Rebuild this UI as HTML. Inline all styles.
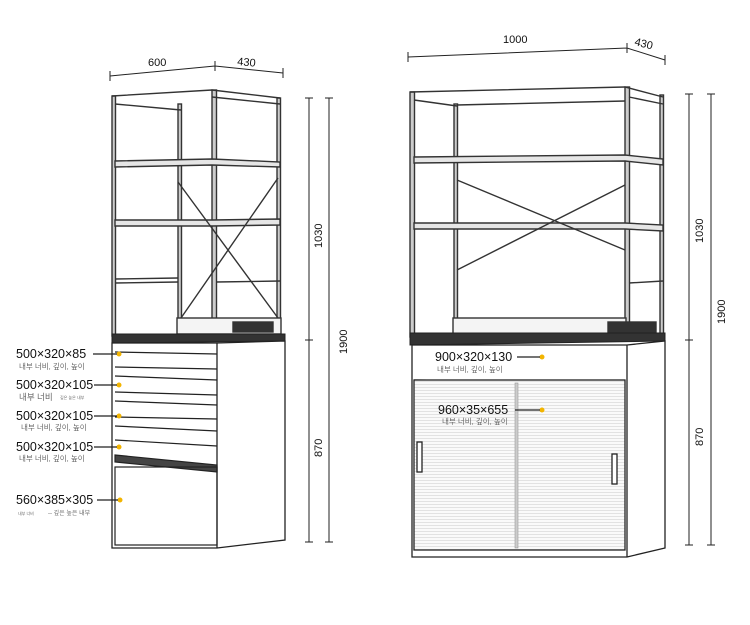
<!DOCTYPE html>
<html><head><meta charset="utf-8"><style>
html,body{margin:0;padding:0;background:#fff;width:750px;height:625px;overflow:hidden}
svg{display:block}
text{font-family:"Liberation Sans","Noto Sans CJK KR",sans-serif;fill:#111}
.k{font-size:7.5px;fill:#666}
.b{font-size:12.5px}
</style></head><body>
<svg width="750" height="625" viewBox="0 0 750 625" xmlns="http://www.w3.org/2000/svg">
<defs>
<pattern id="st" width="4" height="3" patternUnits="userSpaceOnUse"><rect width="4" height="3" fill="#fafafa"/><rect width="4" height="1" fill="#e2e2e2"/></pattern>
</defs>
<g stroke="#222" fill="none" stroke-width="1">
<path d="M110 76 L215 66 L283 73 M110 71v10 M215 61v10 M283 68v10"/>
<path d="M305 98h8 M309 98V542 M305 542h8 M305 340h8 M325 98h8 M329 98V542 M325 542h8"/>
<path d="M408 57 L627 48 L665 60 M408 52v10 M627 43v10 M665 55v10"/>
<path d="M685 94h8 M689 94V545 M685 545h8 M685 340h8 M707 94h8 M711 94V545 M707 545h8"/>

<g stroke="#333" stroke-width="1.4">
<rect x="112" y="96" width="3.5" height="240" fill="#ccc"/>
<rect x="212" y="90" width="4.5" height="250" fill="#ccc"/>
<rect x="178" y="104" width="3.5" height="215" fill="#ccc"/>
<rect x="277" y="98" width="3.5" height="240" fill="#ccc"/>
<path d="M112 96 L212 90 L280 98 M115 104 L181 110 M212 97 L280 104"/>
<path d="M115 161 L212 159 L280 162 L280 167 L212 165 L115 167 Z" fill="#e6e6e6"/>
<path d="M115 220 L212 220 L280 219 L280 225 L212 226 L115 226 Z" fill="#e6e6e6"/>
<path d="M115 279 L178 278 M115 283 L178 282 M216 282 L280 281"/>
<path d="M178 182 L278 318 M181 318 L278 178"/>
<rect x="177" y="318" width="104" height="16" fill="#f4f4f4"/>
<rect x="233" y="322" width="40" height="10" fill="#333"/>
</g>
<path d="M112 334 L285 334 L285 341 L112 343 Z" fill="#333"/>
<path d="M112 343 V548 L217 548 V343 Z M217 343 L285 341 V540 L217 548" stroke="#222" fill="#fff" stroke-width="1.3"/>
<g stroke="#222" stroke-width="1.2">
<path d="M115 352 L217 354 M115 367 L217 369 M115 376 L217 380 M115 392 L217 395 M115 401 L217 405 M115 417 L217 419 M115 426 L217 431 M115 440 L217 446"/>
<path d="M115 455 L217 465 L217 472 L115 462 Z" fill="#444"/>
<rect x="115" y="467" width="102" height="78" fill="none"/>
</g>

<g stroke="#333" stroke-width="1.4">
<rect x="410" y="92" width="4.5" height="245" fill="#ccc"/>
<rect x="625" y="87" width="4.5" height="250" fill="#ccc"/>
<rect x="454" y="104" width="3.5" height="230" fill="#ccc"/>
<rect x="660" y="95" width="3.5" height="240" fill="#ccc"/>
<path d="M410 92 L625 87 L663 97 M414 100 L457 106 M457 105 L625 101 M629 97 L663 104"/>
<path d="M414 157 L625 155 L663 159 L663 165 L625 161 L414 163 Z" fill="#e6e6e6"/>
<path d="M414 223 L625 223 L663 225 L663 231 L625 229 L414 229 Z" fill="#e6e6e6"/>
<path d="M629 283 L663 281"/>
<path d="M457 180 L625 250 M457 270 L625 185"/>
<rect x="453" y="318" width="173" height="16" fill="#f4f4f4"/>
<rect x="608" y="322" width="48" height="12" fill="#333"/>
</g>
<path d="M410 333 L665 333 L665 341 L410 345 Z" fill="#333"/>
<path d="M412 345 L627 347 L627 352 L412 350 Z" fill="#333"/>
<path d="M412 345 V557 L627 557 V345 Z M627 345 L665 341 V548 L627 557" stroke="#222" fill="#fff" stroke-width="1.3"/>
<g stroke="#222" stroke-width="1.3">
<path d="M414 380 L625 382"/>
<rect x="414" y="380" width="211" height="170" fill="url(#st)"/>
<rect x="515" y="383" width="3" height="165" fill="#ccc" stroke="#999" stroke-width="0.6"/>
<rect x="417" y="442" width="5" height="30" fill="#fff"/>
<rect x="612" y="454" width="5" height="30" fill="#fff"/>
</g>
</g>

<g fill="#f2b400">
<circle cx="119" cy="354" r="2.5"/><circle cx="119" cy="385" r="2.5"/><circle cx="119" cy="416" r="2.5"/><circle cx="119" cy="447" r="2.5"/><circle cx="120" cy="500" r="2.5"/>
<circle cx="542" cy="357" r="2.5"/><circle cx="542" cy="410" r="2.5"/>
</g>
<g stroke="#222" stroke-width="1.2">
<path d="M93 354h24 M94 385h23 M94 416h23 M94 447h23 M97 500h21 M517 357h23 M515 410h25"/>
</g>
<text class="b" x="16" y="358">500×320×85</text>
<text class="k" x="19" y="369">내부 너비, 깊이, 높이</text>
<text class="b" x="16" y="389">500×320×105</text>
<text class="k" x="19" y="400" style="font-size:8.5px">내부 너비</text><text class="k" x="60" y="399" style="font-size:4px">깊은 높은 내부</text>
<text class="b" x="16" y="420">500×320×105</text>
<text class="k" x="21" y="430">내부 너비, 깊이, 높이</text>
<text class="b" x="16" y="451">500×320×105</text>
<text class="k" x="19" y="461">내부 너비, 깊이, 높이</text>
<text class="b" x="16" y="504">560×385×305</text>
<text class="k" x="18" y="515" style="font-size:4px">내부 너비</text><text class="k" x="48" y="515" style="font-size:6px">--  깊은 높은 내부</text>
<text class="b" x="435" y="361">900×320×130</text>
<text class="k" x="437" y="372">내부 너비, 깊이, 높이</text>
<text class="b" x="438" y="414">960×35×655</text>
<text class="k" x="442" y="424">내부 너비, 깊이, 높이</text>

<text x="148" y="66" font-size="11">600</text>
<text x="237" y="65" font-size="11" transform="rotate(5 237 65)">430</text>
<text x="503" y="43" font-size="11">1000</text>
<text x="634" y="45" font-size="11" transform="rotate(14 634 45)">430</text>
<g font-size="11">
<text transform="translate(322 248) rotate(-90)">1030</text>
<text transform="translate(322 457) rotate(-90)">870</text>
<text transform="translate(347 354) rotate(-90)">1900</text>
<text transform="translate(703 243) rotate(-90)">1030</text>
<text transform="translate(703 446) rotate(-90)">870</text>
<text transform="translate(725 324) rotate(-90)">1900</text>
</g>
</svg>
</body></html>
